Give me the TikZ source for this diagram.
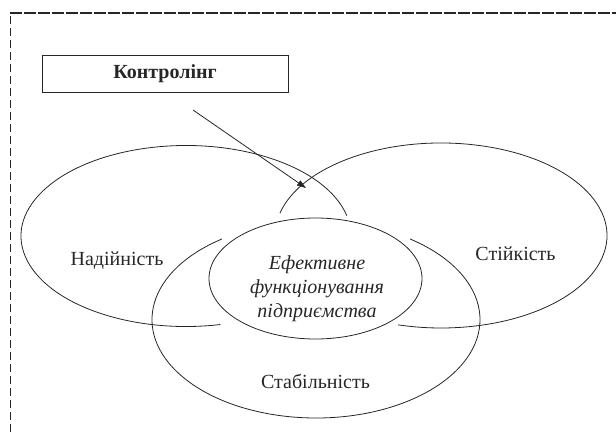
\documentclass[tikz,border=0pt]{standalone}
\usepackage{fontspec}
\setmainfont{Liberation Serif}
\usetikzlibrary{arrows.meta}
\begin{document}
\begin{tikzpicture}[x=1pt,y=1pt,
  ink/.style={draw=black!85, line width=0.8pt},
  lbl/.style={text=black!85, inner sep=0pt, font=\fontsize{20}{24}\selectfont},
  framev/.style={draw=black!85, line width=0.9pt, dash pattern=on 8pt off 4pt},
  frameh/.style={draw=black!85, line width=1.1pt, dash pattern=on 12pt off 2pt}]
\useasboundingbox (0,0) rectangle (616,432);
% frame
\draw[framev] (10,0) -- (10,419);
\draw[frameh] (10,419) -- (616,419);
% box
\node[ink, lbl, minimum width=246pt, minimum height=37pt, font=\fontsize{20}{24}\selectfont\bfseries] (ctrl) at (165,358.5) {Контролінг};
% ellipses
\draw[ink] (186,196) ++(13:165pt and 90.5pt) arc[start angle=13, end angle=282, x radius=165, y radius=90.5];
\draw[ink] (441,196.5) ++(166:166pt and 92.5pt) arc[start angle=166, end angle=-105, x radius=166, y radius=92.5];
\draw[ink] (316,112.4) ++(125:164pt and 98.4pt) arc[start angle=125, end angle=415, x radius=164, y radius=98.4];
\draw[ink] (315.5,153.5) ellipse[x radius=106.5, y radius=60.5];
% labels
\node[lbl, anchor=base] (nad) at (117,167) {Надійність};
\node[lbl, anchor=base] (stii) at (515.5,172) {Стійкість};
\node[lbl, anchor=base] (stab) at (315.5,44) {Стабільність};
\node[lbl, align=center, font=\fontsize{20}{24}\selectfont\itshape] (eff) at (317,143) {Ефективне\\функціонування\\підприємства};
% arrow
\coordinate (ars) at (193,322);
\coordinate (are) at (306,244);
\draw[ink, -{Triangle[length=9pt,width=6pt]}] (ars) -- (are);
\end{tikzpicture}
\end{document}
